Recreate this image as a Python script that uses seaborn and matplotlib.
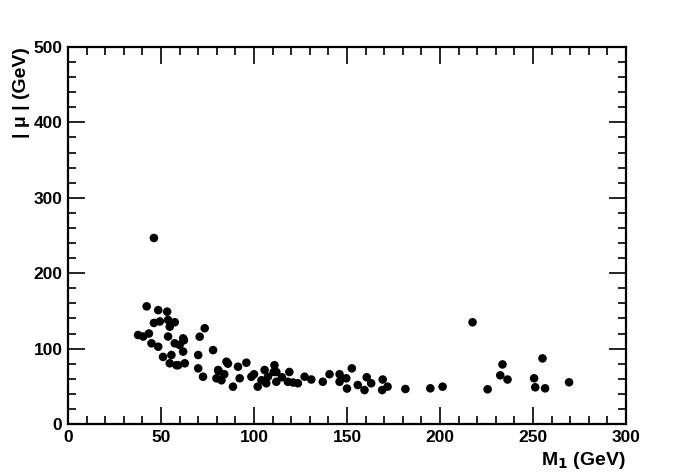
import numpy as np
import pandas as pd
import matplotlib
matplotlib.use('Agg')
import matplotlib.pyplot as plt
from matplotlib.ticker import MultipleLocator
import seaborn as sns

# M1 (GeV) and |mu| (GeV)
m1 = [46.2, 42.3, 48.5, 53.3, 46.2, 49.4, 53.8, 54.7, 57.4, 37.7,
      40.4, 43.5, 44.9, 48.5, 53.8, 57.4, 51.1, 55.6, 54.7, 61.9,
      62.3, 60.0, 58.3, 61.9, 59.2, 62.8, 73.5, 70.8, 78.0, 70.0,
      70.0, 72.6, 80.7, 85.2, 79.8, 82.5, 91.4, 95.9, 92.3, 88.7,
      98.6, 105.7, 107.5, 111.0, 112.0, 102.0, 106.6, 110.6, 112.0, 119.0,
      118.2, 123.6, 127.2, 130.8, 137.0, 140.6, 146.0, 146.0, 149.6, 150.0,
      152.6, 155.8, 159.4, 160.6, 163.0, 169.2, 168.9, 171.8, 181.4, 194.8,
      201.4, 217.5, 225.6, 233.6, 232.4, 236.3, 250.6, 251.2, 255.1, 256.5,
      269.4, 84.0, 81.0, 86.0, 100.0, 104.0, 115.0, 121.0]
mu = [246.7, 156.0, 151.0, 149.0, 134.0, 136.0, 138.0, 129.0, 135.0, 118.0,
      116.0, 120.0, 107.0, 102.5, 116.0, 107.0, 89.0, 91.5, 80.5, 113.6,
      111.0, 104.8, 78.0, 96.0, 78.0, 80.5, 127.0, 115.8, 98.0, 91.5,
      73.8, 62.7, 71.6, 82.6, 60.6, 58.0, 76.0, 81.3, 60.6, 49.5,
      62.7, 71.6, 62.7, 78.0, 56.0, 49.5, 54.0, 69.0, 69.0, 69.0,
      56.0, 54.0, 62.7, 59.0, 56.0, 66.0, 66.0, 56.0, 60.6, 47.0,
      73.8, 51.7, 45.0, 62.0, 54.0, 59.0, 45.0, 49.5, 46.4, 47.3,
      49.5, 134.9, 46.0, 79.0, 64.6, 59.0, 60.6, 48.7, 87.0, 47.3,
      55.3, 66.0, 70.0, 80.0, 66.0, 58.0, 62.0, 55.0]

df = pd.DataFrame({'M1': m1, 'mu': mu})

sns.set_style('ticks')
plt.rcParams['font.family'] = ['Liberation Sans', 'DejaVu Sans']
plt.rcParams['font.weight'] = 'bold'

fig = plt.figure(figsize=(6.96, 4.72), dpi=100)
ax = fig.add_axes([68/696, 1-424/472, 558/696, 377/472])

sns.scatterplot(data=df, x='M1', y='mu', color='black', s=38,
                edgecolor='none', ax=ax)

ax.set_xlim(0, 300)
ax.set_ylim(0, 500)
ax.xaxis.set_major_locator(MultipleLocator(50))
ax.xaxis.set_minor_locator(MultipleLocator(10))
ax.yaxis.set_major_locator(MultipleLocator(100))
ax.yaxis.set_minor_locator(MultipleLocator(20))
ax.tick_params(which='both', direction='in', top=True, right=True,
               width=1.2, colors='black', labelsize=12.5, pad=4)
ax.tick_params(which='major', length=12)
ax.tick_params(which='minor', length=6)
for lab in ax.get_xticklabels() + ax.get_yticklabels():
    lab.set_fontweight('bold')
for sp in ax.spines.values():
    sp.set_linewidth(1.6)
    sp.set_color('black')

ax.set_xlabel('M$_\\mathbf{1}$ (GeV)', fontsize=14, fontweight='bold',
              color='black')
ax.xaxis.set_label_coords(1.0, -0.07)
ax.xaxis.label.set_horizontalalignment('right')
ax.set_ylabel('| μ | (GeV)', fontsize=14, fontweight='bold', color='black')
ax.yaxis.set_label_coords(-0.068, 1.0)
ax.yaxis.label.set_horizontalalignment('right')

fig.savefig('out.png', dpi=100)
